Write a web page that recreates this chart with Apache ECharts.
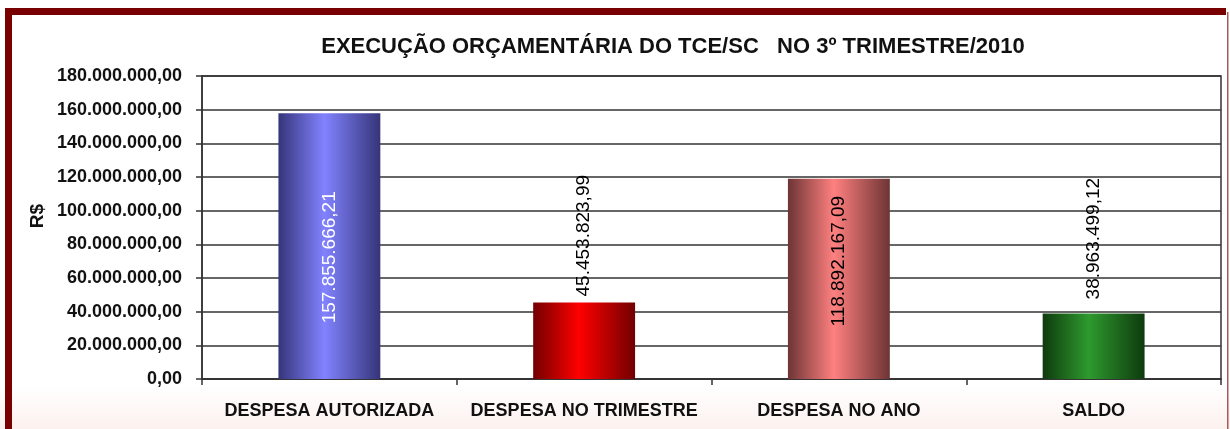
<!DOCTYPE html>
<html>
<head>
<meta charset="utf-8">
<script src="https://cdn.jsdelivr.net/npm/echarts@6/dist/echarts.min.js"></script>
<style>html,body{margin:0;padding:0;background:#fff}#c{width:1230px;height:429px}</style>
</head>
<body>
<div id="c"></div>
<script>
const categories = ['DESPESA AUTORIZADA', 'DESPESA NO TRIMESTRE', 'DESPESA NO ANO', 'SALDO'];
const values = [157855666.21, 45453823.99, 118892167.09, 38963499.12];
const yTicks = [0, 20000000, 40000000, 60000000, 80000000, 100000000, 120000000, 140000000, 160000000, 180000000];
const titleText = 'EXECUÇÃO ORÇAMENTÁRIA DO TCE/SC   NO 3º TRIMESTRE/2010';
const yName = 'R$';

function brl(v) {
  const s = Math.abs(v).toFixed(2);
  const [i, d] = s.split('.');
  return i.replace(/\B(?=(\d{3})+(?!\d))/g, '.') + ',' + d;
}
function grad(edge1, mid, edge2) {
  return new echarts.graphic.LinearGradient(0, 0, 1, 0, [
    {offset: 0, color: edge1}, {offset: 0.45, color: mid}, {offset: 1, color: edge2}
  ]);
}
const fills = [
  grad('#35357a', '#8282ff', '#35357a'),
  grad('#720000', '#ff0000', '#720000'),
  grad('#6e3434', '#ff8080', '#6e3434'),
  grad('#0e3a0e', '#2e9a2e', '#0e3a0e')
];
const labelCfg = [
  {position: 'insideTop', distance: 78, align: 'right', color: '#fff'},
  {position: 'top', distance: 6, align: 'left', color: '#000'},
  {position: 'insideTop', distance: 17, align: 'right', color: '#000'},
  {position: 'top', distance: 14, align: 'left', color: '#000'}
];
const seriesData = values.map((v, i) => ({
  value: v,
  itemStyle: {color: fills[i]},
  label: {
    show: true, rotate: 90, verticalAlign: 'middle',
    position: labelCfg[i].position, distance: labelCfg[i].distance,
    align: labelCfg[i].align, color: labelCfg[i].color,
    fontFamily: 'Liberation Sans, Arial', fontSize: 19,
    formatter: p => brl(p.value)
  }
}));

const chart = echarts.init(document.getElementById('c'));
chart.setOption({
  animation: false,
  backgroundColor: new echarts.graphic.LinearGradient(0, 0, 0, 1, [
    {offset: 0, color: '#ffffff'}, {offset: 0.9, color: '#ffffff'}, {offset: 1, color: '#fcf1ee'}
  ]),
  title: {
    text: titleText, left: 668, top: 31, textAlign: 'center',
    textStyle: {fontFamily: 'Liberation Sans, Arial', fontWeight: 'bold', fontSize: 22, color: '#111'}
  },
  graphic: [
    {type: 'rect', shape: {x: 5, y: 8, width: 1221, height: 7}, style: {fill: '#780000'}, z: 10},
    {type: 'rect', shape: {x: 5, y: 8, width: 7, height: 430}, style: {fill: '#780000'}, z: 10},
    {type: 'rect', shape: {x: 1227, y: 12, width: 1.5, height: 430}, style: {fill: '#a85a5a'}, z: 10},
    {type: 'text', x: 38, y: 216, rotation: Math.PI / 2,
     style: {text: yName, align: 'center', verticalAlign: 'middle', fill: '#111',
             font: 'bold 19px "Liberation Sans", Arial'}, z: 10}
  ],
  grid: {left: 202, right: 9, top: 76, bottom: 50, show: true, borderColor: '#333', borderWidth: 1.5, backgroundColor: 'transparent'},
  xAxis: {
    type: 'category', data: categories,
    axisLine: {lineStyle: {color: '#333', width: 1.5}},
    axisTick: {show: true, interval: 0, length: 6, inside: false, lineStyle: {color: '#333', width: 1.5}},
    axisLabel: {interval: 0, margin: 23, color: '#111', fontFamily: 'Liberation Sans, Arial', fontWeight: 'bold', fontSize: 18}
  },
  yAxis: {
    type: 'value', min: yTicks[0], max: yTicks[yTicks.length - 1], interval: yTicks[1] - yTicks[0],
    axisLine: {show: true, lineStyle: {color: '#333', width: 1.5}},
    axisTick: {show: true, length: 6, lineStyle: {color: '#333', width: 1.5}},
    splitLine: {lineStyle: {color: '#333', width: 1.5}},
    axisLabel: {margin: 20, color: '#111', fontFamily: 'Liberation Sans, Arial', fontWeight: 'bold', fontSize: 18, formatter: v => brl(v)}
  },
  series: [{
    type: 'bar', data: seriesData, barWidth: '40%'
  }]
});
</script>
</body>
</html>
